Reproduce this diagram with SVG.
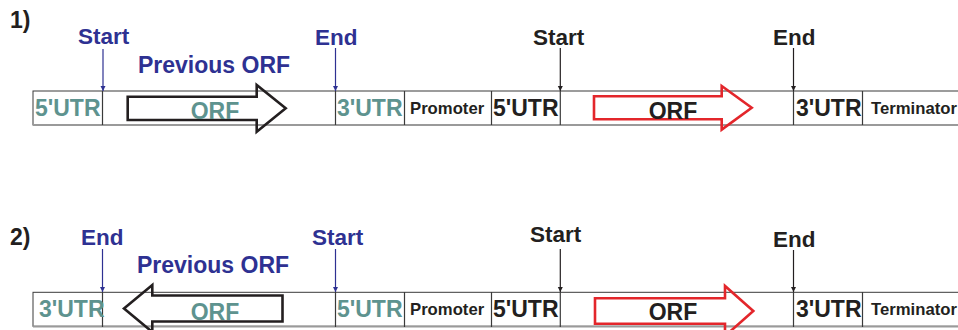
<svg xmlns="http://www.w3.org/2000/svg" width="958" height="330" viewBox="0 0 958 330">
<defs>
<style>
text{font-family:"Liberation Sans",Arial,sans-serif;font-weight:bold}
.big{font-size:23px}
.lab{font-size:22.5px}
.sm{font-size:16.7px}
.teal{fill:#5e938f}
.blue{fill:#2e3192}
.blk{fill:#231f20}
.box{fill:#fff;stroke:#3a3a3a;stroke-width:1}
.bot{stroke:#9a9a9a;stroke-width:2}
.div{stroke:#3a3a3a;stroke-width:1.2}
.bl{stroke:#2e3192;stroke-width:1.2}
.kl{stroke:#231f20;stroke-width:1.2}
.arrK{fill:none;stroke:#231f20;stroke-width:2.6;stroke-linejoin:miter}
.arrR{fill:none;stroke:#e3262b;stroke-width:2.6;stroke-linejoin:miter}
</style>
<marker id="mb" viewBox="0 0 10 10" refX="10" refY="5" markerWidth="5" markerHeight="6" orient="auto" markerUnits="userSpaceOnUse"><path d="M0,0 L10,5 L0,10 z" fill="#2e3192"/></marker>
<marker id="mk" viewBox="0 0 10 10" refX="10" refY="5" markerWidth="5" markerHeight="6" orient="auto" markerUnits="userSpaceOnUse"><path d="M0,0 L10,5 L0,10 z" fill="#231f20"/></marker>
</defs>
<rect width="958" height="330" fill="#fff"/>

<g id="row1">
<text class="big blk" x="10" y="28">1)</text>
<g id="r1-box">
<rect class="box" x="33" y="91" width="940" height="34"/>
<line class="bot" x1="33" y1="125" x2="958" y2="125"/>
<line class="div" x1="102.5" y1="91" x2="102.5" y2="125"/>
<line class="div" x1="335.5" y1="91" x2="335.5" y2="125"/>
<line class="div" x1="404.5" y1="91" x2="404.5" y2="125"/>
<line class="div" x1="491.5" y1="91" x2="491.5" y2="125"/>
<line class="div" x1="560.3" y1="91" x2="560.3" y2="125"/>
<line class="div" x1="793.5" y1="91" x2="793.5" y2="125"/>
<line class="div" x1="862.5" y1="91" x2="862.5" y2="125"/>
</g>
<g id="r1-prev-orf">
<path class="arrK" d="M127.7,96.7 H256.7 V85 L285.7,108.3 L256.7,131.7 V120 H127.7 Z"/>
<text class="big teal" x="215" y="119" text-anchor="middle">ORF</text>
</g>
<g id="r1-orf">
<path class="arrR" d="M594,96.3 H721.7 V86 L751.7,107.8 L721.7,129.6 V119.3 H594 Z"/>
<text class="big blk" x="673" y="119" text-anchor="middle">ORF</text>
</g>
<g id="r1-labels">
<text class="big teal" x="35" y="116">5'UTR</text>
<text class="big teal" x="337" y="116">3'UTR</text>
<text class="sm blk" x="410" y="113.5">Promoter</text>
<text class="big blk" x="493" y="116">5'UTR</text>
<text class="big blk" x="796" y="116">3'UTR</text>
<text class="sm blk" x="871" y="113.5">Terminator</text>
</g>
<text class="lab blue" x="78" y="44">Start</text>
<text class="big blue" x="138" y="73">Previous ORF</text>
<text class="lab blue" x="315" y="45">End</text>
<text class="lab blk" x="533" y="45">Start</text>
<text class="lab blk" x="773" y="45">End</text>
</g>

<g id="row2">
<text class="big blk" x="10" y="245">2)</text>
<g id="r2-box">
<rect class="box" x="33" y="292.3" width="940" height="34"/>
<line class="bot" x1="33" y1="326.5" x2="958" y2="326.5"/>
<line class="div" x1="102.5" y1="292" x2="102.5" y2="327"/>
<line class="div" x1="335.5" y1="292" x2="335.5" y2="327"/>
<line class="div" x1="404.5" y1="292" x2="404.5" y2="327"/>
<line class="div" x1="491.5" y1="292" x2="491.5" y2="327"/>
<line class="div" x1="560.3" y1="292" x2="560.3" y2="327"/>
<line class="div" x1="793.5" y1="292" x2="793.5" y2="327"/>
<line class="div" x1="862.5" y1="292" x2="862.5" y2="327"/>
</g>
<g id="r2-prev-orf">
<path class="arrK" d="M282.5,295.5 H152.3 V285 L124,308.5 L152.3,332 V321.5 H282.5 Z"/>
<text class="big teal" x="215" y="320" text-anchor="middle">ORF</text>
</g>
<g id="r2-orf">
<path class="arrR" d="M595,298.3 H725 V286 L753.3,311 L725,336 V323.7 H595 Z"/>
<text class="big blk" x="673" y="320" text-anchor="middle">ORF</text>
</g>
<g id="r2-labels">
<text class="big teal" x="39" y="317">3'UTR</text>
<text class="big teal" x="337" y="317">5'UTR</text>
<text class="sm blk" x="410" y="315">Promoter</text>
<text class="big blk" x="493" y="317">5'UTR</text>
<text class="big blk" x="796" y="317">3'UTR</text>
<text class="sm blk" x="871" y="315">Terminator</text>
</g>
<text class="lab blue" x="81" y="245">End</text>
<text class="big blue" x="137" y="273">Previous ORF</text>
<text class="lab blue" x="312" y="245">Start</text>
<text class="lab blk" x="530" y="242">Start</text>
<text class="lab blk" x="773" y="247">End</text>
</g>

<g id="connectors">
<line class="bl" x1="103" y1="49" x2="103" y2="91" marker-end="url(#mb)"/>
<line class="bl" x1="335.5" y1="48" x2="335.5" y2="91" marker-end="url(#mb)"/>
<line class="kl" x1="560.3" y1="48" x2="560.3" y2="91" marker-end="url(#mk)"/>
<line class="kl" x1="793.5" y1="48" x2="793.5" y2="91" marker-end="url(#mk)"/>
<line class="bl" x1="102.5" y1="249" x2="102.5" y2="292" marker-end="url(#mb)"/>
<line class="bl" x1="335.5" y1="249" x2="335.5" y2="292" marker-end="url(#mb)"/>
<line class="kl" x1="560.3" y1="249" x2="560.3" y2="292" marker-end="url(#mk)"/>
<line class="kl" x1="793.5" y1="250" x2="793.5" y2="292" marker-end="url(#mk)"/>
</g>
</svg>
